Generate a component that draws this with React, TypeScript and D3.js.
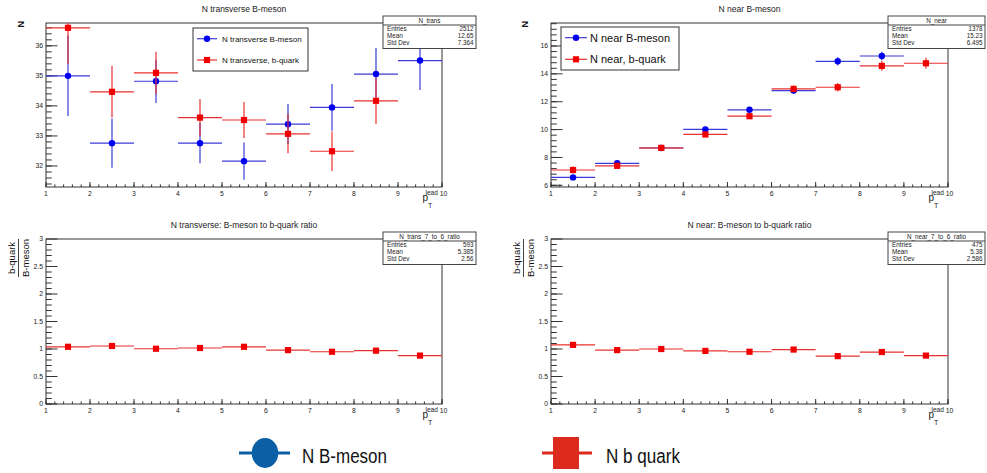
import React from "react";
import * as d3 from "d3";

const FONT = "'Liberation Sans', Arial, Helvetica, sans-serif";

// bin centres in p_T^lead
const binCenters = [1.5, 2.5, 3.5, 4.5, 5.5, 6.5, 7.5, 8.5, 9.5];
const xTicks = [1, 2, 3, 4, 5, 6, 7, 8, 9, 10];

// N transverse
const transMeson = [35.0, 32.76, 34.82, 32.76, 32.16, 33.39, 33.95, 35.06, 35.51];
const transMesonErr = [1.34, 0.82, 0.72, 0.67, 0.62, 0.67, 0.78, 0.87, 0.98];
const transQuark = [36.6, 34.47, 35.1, 33.61, 33.53, 33.07, 32.49, 34.17, 31.2];
const transQuarkErr = [1.2, 0.86, 0.7, 0.62, 0.6, 0.65, 0.66, 0.77, 0.9];
const transTicks = [32, 33, 34, 35, 36];

// N near
const nearMeson = [6.57, 7.58, 8.68, 10.01, 11.42, 12.8, 14.9, 15.28, 16.8];
const nearMesonErr = [0.12, 0.15, 0.15, 0.2, 0.2, 0.25, 0.3, 0.3, 0.4];
const nearQuark = [7.1, 7.4, 8.69, 9.65, 10.96, 12.92, 13.04, 14.57, 14.76];
const nearQuarkErr = [0.25, 0.15, 0.15, 0.2, 0.2, 0.25, 0.3, 0.35, 0.4];
const nearTicks = [6, 8, 10, 12, 14, 16];

// ratios
const transRatio = [1.04, 1.055, 1.005, 1.018, 1.04, 0.98, 0.95, 0.97, 0.88];
const nearRatio = [1.075, 0.98, 1.0, 0.965, 0.95, 0.99, 0.87, 0.945, 0.88];
const ratioErr = [0.03, 0.03, 0.03, 0.03, 0.03, 0.03, 0.03, 0.03, 0.03];
const ratioTicks = [0, 0.5, 1, 1.5, 2, 2.5, 3];

// stats boxes: name, entries, mean, std dev
const statsTrans = ["N_trans", "2512", "12.65", "7.364"];
const statsNear = ["N_near", "1378", "15.23", "6.495"];
const statsTransRatio = ["N_trans_7_to_6_ratio", "593", "5.385", "2.56"];
const statsNearRatio = ["N_near_7_to_6_ratio", "475", "5.38", "2.586"];

const BLUE = "#0000f0";
const BLUE_BAR = "#3a3ad8";
const RED = "#f00000";
const RED_BAR = "#e83030";

type Series = { y: number[]; err: number[]; color: string; bar: string; marker: "circle" | "square" };

function Stats({ s, x0, x1, y0 }: { s: string[]; x0: number; x1: number; y0: number }) {
  const rows = [["Entries", s[1]], ["Mean", s[2]], ["Std Dev", s[3]]];
  return (
    <g fontFamily={FONT} fontSize={6.3} fill="#222">
      <rect x={x0} y={y0} width={x1 - x0} height={32.5} fill="white" stroke="#444" strokeWidth={1} />
      <line x1={x0} x2={x1} y1={y0 + 9} y2={y0 + 9} stroke="#444" />
      <text x={(x0 + x1) / 2} y={y0 + 6.8} textAnchor="middle">{s[0]}</text>
      {rows.map((r, i) => (
        <g key={i}>
          <text x={x0 + 4} y={y0 + 14.8 + i * 7}>{r[0]}</text>
          <text x={x1 - 2.5} y={y0 + 14.8 + i * 7} textAnchor="end">{r[1]}</text>
        </g>
      ))}
    </g>
  );
}

type PanelProps = {
  left: number; right: number; top: number; bottom: number;
  yDomain: [number, number]; yTicks: number[]; yMinor: number;
  series: Series[]; title: string; titleY: number;
};

function Panel(p: PanelProps) {
  const x = d3.scaleLinear().domain([1, 10]).range([p.left, p.right]);
  const y = d3.scaleLinear().domain(p.yDomain).range([p.bottom, p.top]);
  const xMinor = d3.range(1, 10.001, 0.2);
  const yMinor = d3.range(Math.ceil(p.yDomain[0] / p.yMinor - 1e-6) * p.yMinor, p.yDomain[1], p.yMinor);
  const clamp = (v: number) => Math.max(p.yDomain[0], Math.min(p.yDomain[1], v));
  const lenY = (p.right - p.left) * 0.029;
  return (
    <g fontFamily={FONT}>
      <text x={(p.left + p.right) / 2} y={p.titleY} textAnchor="middle" fontSize={8.5} fill="#222">{p.title}</text>
      <rect x={p.left} y={p.top} width={p.right - p.left} height={p.bottom - p.top} fill="none" stroke="#333" strokeWidth={1} />
      {xMinor.map((v, i) => (
        <line key={"xm" + i} x1={x(v)} x2={x(v)} y1={p.bottom} y2={p.bottom - 2.6} stroke="#333" />
      ))}
      {xTicks.map((v) => (
        <g key={"x" + v}>
          <line x1={x(v)} x2={x(v)} y1={p.bottom} y2={p.bottom - 5} stroke="#333" />
          <text x={x(v) + (v === 10 ? 1.5 : 0)} y={p.bottom + 9} textAnchor="middle" fontSize={6.8} fill="#222">{v}</text>
        </g>
      ))}
      {yMinor.map((v, i) => (
        <line key={"ym" + i} x1={p.left} x2={p.left + lenY / 2} y1={y(v)} y2={y(v)} stroke="#333" />
      ))}
      {p.yTicks.map((v) => (
        <g key={"y" + v}>
          <line x1={p.left} x2={p.left + lenY} y1={y(v)} y2={y(v)} stroke="#333" />
          <text x={p.left - 3} y={y(v) + 2.4} textAnchor="end" fontSize={6.8} fill="#222">{v}</text>
        </g>
      ))}
      <text x={p.right - 19.5} y={p.bottom + 14} fontSize={10} fill="#222">p</text>
      <text x={p.right - 14} y={p.bottom + 21} fontSize={7} fill="#222">T</text>
      <text x={p.right - 16.5} y={p.bottom + 8} fontSize={6.5} fill="#222">lead</text>
      {p.series.map((s, k) => (
        <g key={"s" + k}>
          {binCenters.map((c, i) => {
            const v = s.y[i];
            if (v < p.yDomain[0] || v > p.yDomain[1]) return null;
            return (
              <g key={i}>
                <line x1={x(c - 0.5)} x2={x(c + 0.5)} y1={y(v)} y2={y(v)} stroke={s.bar} strokeWidth={1.2} />
                <line x1={x(c)} x2={x(c)} y1={y(clamp(v - s.err[i]))} y2={y(clamp(v + s.err[i]))} stroke={s.bar} strokeWidth={1.2} />
                {s.marker === "circle" ? (
                  <circle cx={x(c)} cy={y(v)} r={3.2} fill={s.color} />
                ) : (
                  <rect x={x(c) - 3.1} y={y(v) - 3.1} width={6.2} height={6.2} fill={s.color} />
                )}
              </g>
            );
          })}
        </g>
      ))}
    </g>
  );
}

function Legend({ x0, x1, y0, y1, rows, lx0, lx1, mx, tx, fs }: any) {
  return (
    <g fontFamily={FONT}>
      <rect x={x0} y={y0} width={x1 - x0} height={y1 - y0} fill="white" stroke="#333" />
      {rows.map((r: any, i: number) => (
        <g key={i}>
          <line x1={lx0} x2={lx1} y1={r.y} y2={r.y} stroke={r.bar} strokeWidth={1.2} />
          {r.marker === "circle" ? (
            <circle cx={mx} cy={r.y} r={3.2} fill={r.color} />
          ) : (
            <rect x={mx - 3.1} y={r.y - 3.1} width={6.2} height={6.2} fill={r.color} />
          )}
          <text x={tx} y={r.y + fs * 0.36} fontSize={fs} fill="#111">{r.label}</text>
        </g>
      ))}
    </g>
  );
}

function RatioLabel({ x }: { x: number }) {
  const cy = 258;
  return (
    <g fontFamily={FONT} fontSize={9.5} fill="#111">
      <text transform={`translate(${x},${cy}) rotate(-90)`} textAnchor="middle">b-quark</text>
      <line x1={x + 3.5} x2={x + 3.5} y1={239} y2={277} stroke="#111" strokeWidth={0.8} />
      <text transform={`translate(${x + 13.5},${cy}) rotate(-90)`} textAnchor="middle">B-meson</text>
    </g>
  );
}

export default function App() {
  const mesonT: Series = { y: transMeson, err: transMesonErr, color: BLUE, bar: BLUE_BAR, marker: "circle" };
  const quarkT: Series = { y: transQuark, err: transQuarkErr, color: RED, bar: RED_BAR, marker: "square" };
  const mesonN: Series = { y: nearMeson, err: nearMesonErr, color: BLUE, bar: BLUE_BAR, marker: "circle" };
  const quarkN: Series = { y: nearQuark, err: nearQuarkErr, color: RED, bar: RED_BAR, marker: "square" };
  const ratioT: Series = { y: transRatio, err: ratioErr, color: RED, bar: RED_BAR, marker: "square" };
  const ratioN: Series = { y: nearRatio, err: ratioErr, color: RED, bar: RED_BAR, marker: "square" };

  return (
    <svg width={987} height={473} style={{ position: "absolute", left: 0, top: 0, background: "white" }}>
      <Panel left={46} right={442} top={23} bottom={187} yDomain={[31.3, 36.76]} yTicks={transTicks} yMinor={0.2}
        series={[mesonT, quarkT]} title="N transverse B-meson" titleY={11.5} />
      <Panel left={551} right={948} top={23} bottom={187} yDomain={[5.88, 17.65]} yTicks={nearTicks} yMinor={0.4}
        series={[mesonN, quarkN]} title="N near B-meson" titleY={11.5} />
      <Panel left={46} right={442} top={239} bottom={404} yDomain={[0, 3]} yTicks={ratioTicks} yMinor={0.1}
        series={[ratioT]} title="N transverse: B-meson to b-quark ratio" titleY={228} />
      <Panel left={551} right={948} top={239} bottom={404} yDomain={[0, 3]} yTicks={ratioTicks} yMinor={0.1}
        series={[ratioN]} title="N near: B-meson to b-quark ratio" titleY={228} />

      <text transform="translate(24,21) rotate(-90)" textAnchor="end" fontFamily={FONT} fontSize={9} fontWeight="bold" fill="#111">N</text>
      <text transform="translate(528,21) rotate(-90)" textAnchor="end" fontFamily={FONT} fontSize={9} fontWeight="bold" fill="#111">N</text>
      <RatioLabel x={15} />
      <RatioLabel x={520} />

      <Legend x0={193} x1={308} y0={28} y1={71} lx0={197} lx1={217} mx={207} tx={222} fs={8}
        rows={[
          { y: 38.7, label: "N transverse B-meson", color: BLUE, bar: BLUE_BAR, marker: "circle" },
          { y: 60, label: "N transverse, b-quark", color: RED, bar: RED_BAR, marker: "square" },
        ]} />
      <Legend x0={561} x1={679} y0={27} y1={70} lx0={565} lx1={587} mx={576} tx={590} fs={11}
        rows={[
          { y: 37.7, label: "N near B-meson", color: BLUE, bar: BLUE_BAR, marker: "circle" },
          { y: 59.3, label: "N near, b-quark", color: RED, bar: RED_BAR, marker: "square" },
        ]} />

      <Stats s={statsTrans} x0={383} x1={476} y0={16} />
      <Stats s={statsNear} x0={888} x1={985} y0={16} />
      <Stats s={statsTransRatio} x0={383} x1={476} y0={232} />
      <Stats s={statsNearRatio} x0={888} x1={985} y0={232} />

      <g fontFamily={FONT}>
        <line x1={239} x2={290} y1={453} y2={453} stroke="#0b5fa5" strokeWidth={3} />
        <ellipse cx={265} cy={453} rx={13.3} ry={15} fill="#0b5fa5" />
        <text x={302} y={463} fontSize={20} textLength={85} lengthAdjust="spacingAndGlyphs" fill="#111">N B-meson</text>
        <line x1={542} x2={592} y1={453} y2={453} stroke="#dc2a1e" strokeWidth={3} />
        <rect x={553} y={437} width={26} height={32} fill="#dc2a1e" />
        <text x={606} y={463} fontSize={20} textLength={74} lengthAdjust="spacingAndGlyphs" fill="#111">N b quark</text>
      </g>
    </svg>
  );
}
